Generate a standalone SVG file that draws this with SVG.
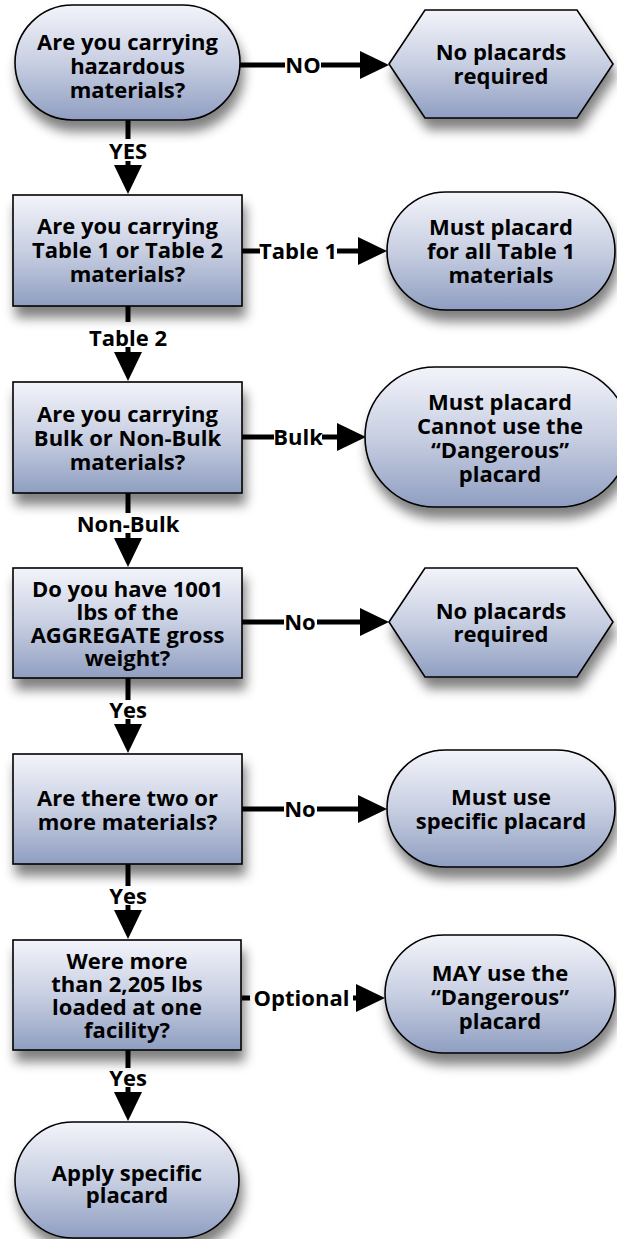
<svg xmlns="http://www.w3.org/2000/svg" width="617" height="1239" viewBox="0 0 617 1239">
<defs>
<linearGradient id="fill" x1="0" y1="0" x2="0" y2="1">
<stop offset="0" stop-color="#f3f4fa"/>
<stop offset="0.5" stop-color="#c8cfe2"/>
<stop offset="1" stop-color="#8f9ec1"/>
</linearGradient>
<filter id="shadow" x="-20%" y="-20%" width="150%" height="170%">
<feGaussianBlur in="SourceAlpha" stdDeviation="6"/>
<feOffset dx="3" dy="11" result="b"/>
<feComponentTransfer><feFuncA type="linear" slope="0.5"/></feComponentTransfer>
<feMerge><feMergeNode/><feMergeNode in="SourceGraphic"/></feMerge>
</filter>
<marker id="arrow" markerUnits="userSpaceOnUse" markerWidth="30" markerHeight="28" refX="8" refY="14" orient="auto" viewBox="0 0 30 28">
<path d="M0,0 L29,14 L0,28 Z" fill="#000"/>
</marker>
</defs>
<style>
.shape{fill:url(#fill);stroke:#000;stroke-width:1.6;filter:url(#shadow)}
.t{font-family:"Open Sans","Liberation Sans",sans-serif;font-weight:700;font-size:22px;fill:#000;text-anchor:middle}
.c{stroke:#000;stroke-width:5;fill:none}
.a{marker-end:url(#arrow)}
</style>
<g id="connectors">
<line class="c" x1="240" y1="65" x2="285" y2="65"/>
<line class="c a" x1="321" y1="65" x2="368" y2="65"/>
<text class="t" x="303" y="73">NO</text>
<line class="c" x1="128" y1="120" x2="128" y2="139"/>
<line class="c a" x1="128" y1="161" x2="128" y2="173"/>
<text class="t" x="128" y="159">YES</text>
<line class="c" x1="242" y1="251" x2="260" y2="251"/>
<line class="c a" x1="337" y1="251" x2="366" y2="251"/>
<text class="t" x="298" y="259">Table 1</text>
<line class="c" x1="128" y1="306" x2="128" y2="322"/>
<line class="c a" x1="128" y1="347" x2="128" y2="360"/>
<text class="t" x="128" y="346">Table 2</text>
<line class="c" x1="242" y1="437" x2="274" y2="437"/>
<line class="c a" x1="322" y1="437" x2="345" y2="437"/>
<text class="t" x="298" y="445">Bulk</text>
<line class="c" x1="128" y1="493" x2="128" y2="513"/>
<line class="c a" x1="128" y1="533" x2="128" y2="546"/>
<text class="t" x="128" y="532">Non-Bulk</text>
<line class="c" x1="242" y1="622" x2="284" y2="622"/>
<line class="c a" x1="317" y1="622" x2="368" y2="622"/>
<text class="t" x="300" y="630">No</text>
<line class="c" x1="128" y1="678" x2="128" y2="700"/>
<line class="c a" x1="128" y1="719" x2="128" y2="732"/>
<text class="t" x="128" y="718">Yes</text>
<line class="c" x1="242" y1="809" x2="284" y2="809"/>
<line class="c a" x1="317" y1="809" x2="366" y2="809"/>
<text class="t" x="300" y="817">No</text>
<line class="c" x1="128" y1="864" x2="128" y2="886"/>
<line class="c a" x1="128" y1="905" x2="128" y2="918"/>
<text class="t" x="128" y="904">Yes</text>
<line class="c" x1="242" y1="998" x2="250" y2="998"/>
<line class="c a" x1="353" y1="998" x2="364" y2="998"/>
<text class="t" x="301.5" y="1006">Optional</text>
<line class="c" x1="128" y1="1050" x2="128" y2="1068"/>
<line class="c a" x1="128" y1="1087" x2="128" y2="1100"/>
<text class="t" x="128" y="1086">Yes</text>
</g>
<g id="n1"><rect class="shape" x="15" y="5" width="225" height="115" rx="57.5"/>
<text class="t" x="127.5" y="50">Are you carrying</text><text class="t" x="127.5" y="74">hazardous</text><text class="t" x="127.5" y="98">materials?</text></g>
<g id="n2"><polygon class="shape" points="389,64 425,10 577,10 613,64 577,118 425,118"/>
<text class="t" x="501" y="60">No placards</text><text class="t" x="501" y="84">required</text></g>
<g id="n3"><rect class="shape" x="13" y="195" width="229" height="111"/>
<text class="t" x="127.5" y="234">Are you carrying</text><text class="t" x="127.5" y="258">Table 1 or Table 2</text><text class="t" x="127.5" y="282">materials?</text></g>
<g id="n4"><rect class="shape" x="387" y="192" width="228" height="118" rx="59"/>
<text class="t" x="501" y="235">Must placard</text><text class="t" x="501" y="259">for all Table 1</text><text class="t" x="501" y="283">materials</text></g>
<g id="n5"><rect class="shape" x="13" y="382" width="229" height="111"/>
<text class="t" x="127.5" y="422">Are you carrying</text><text class="t" x="127.5" y="446">Bulk or Non-Bulk</text><text class="t" x="127.5" y="470">materials?</text></g>
<g id="n6"><rect class="shape" x="365" y="367" width="264" height="140" rx="70"/>
<text class="t" x="500" y="410">Must placard</text><text class="t" x="500" y="434">Cannot use the</text><text class="t" x="500" y="458">“Dangerous”</text><text class="t" x="500" y="482">placard</text></g>
<g id="n7"><rect class="shape" x="13" y="568" width="229" height="110"/>
<text class="t" x="127.5" y="597">Do you have 1001</text><text class="t" x="127.5" y="620">lbs of the</text><text class="t" x="127.5" y="643">AGGREGATE gross</text><text class="t" x="127.5" y="666">weight?</text></g>
<g id="n8"><polygon class="shape" points="389,622 425,568 577,568 613,622 577,677 425,677"/>
<text class="t" x="501" y="619">No placards</text><text class="t" x="501" y="642">required</text></g>
<g id="n9"><rect class="shape" x="13" y="754" width="229" height="110"/>
<text class="t" x="127.5" y="806">Are there two or</text><text class="t" x="127.5" y="830">more materials?</text></g>
<g id="n10"><rect class="shape" x="387" y="750" width="228" height="117" rx="58.5"/>
<text class="t" x="501" y="805">Must use</text><text class="t" x="501" y="829">specific placard</text></g>
<g id="n11"><rect class="shape" x="13" y="940" width="228" height="110"/>
<text class="t" x="127" y="969">Were more</text><text class="t" x="127" y="992">than 2,205 lbs</text><text class="t" x="127" y="1015">loaded at one</text><text class="t" x="127" y="1038">facility?</text></g>
<g id="n12"><rect class="shape" x="385" y="935" width="230" height="118" rx="59"/>
<text class="t" x="500" y="981">MAY use the</text><text class="t" x="500" y="1005">“Dangerous”</text><text class="t" x="500" y="1029">placard</text></g>
<g id="n13"><rect class="shape" x="15" y="1122" width="224" height="116" rx="58"/>
<text class="t" x="127" y="1181">Apply specific</text><text class="t" x="127" y="1203">placard</text></g>
</svg>
